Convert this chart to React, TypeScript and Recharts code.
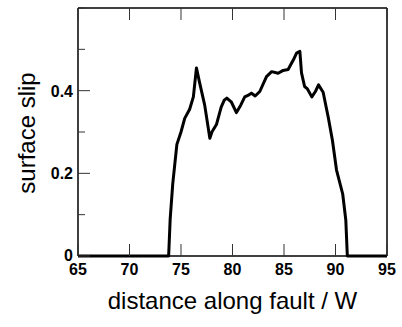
import React from "react";
import { LineChart, Line, XAxis, YAxis, Label } from "recharts";

const distance = [
  65, 73.8, 73.95, 74.2, 74.6, 75.0, 75.36, 75.84, 76.2, 76.5, 76.8, 77.3, 77.8, 78.0,
  78.44, 78.9, 79.2, 79.45, 79.9, 80.38, 80.8, 81.19, 81.6, 81.84, 82.2, 82.65, 83.3,
  83.8, 84.43, 84.92, 85.4, 85.9, 86.22, 86.54, 86.7, 87.0, 87.25, 87.7, 88.05, 88.35,
  88.8, 89.3, 89.7, 90.1, 90.7, 91.0, 91.15, 95,
];
const slip = [
  0, 0, 0.09, 0.175, 0.27, 0.3, 0.333, 0.355, 0.385, 0.455, 0.42, 0.365, 0.285, 0.3,
  0.318, 0.36, 0.377, 0.382, 0.372, 0.347, 0.365, 0.385, 0.39, 0.394, 0.387, 0.398, 0.434,
  0.446, 0.442, 0.449, 0.451, 0.474, 0.491, 0.495, 0.443, 0.41, 0.405, 0.385, 0.398, 0.414,
  0.396, 0.335, 0.28, 0.208, 0.15, 0.087, 0, 0,
];
const xTicks = [65, 70, 75, 80, 85, 90, 95];
const yTicks = [0, 0.1, 0.2, 0.3, 0.4, 0.5, 0.6];
const yLabels: Record<string, string> = { "0": "0", "0.2": "0.2", "0.4": "0.4" };

const data = distance.map((d, i) => ({ d, s: slip[i] }));

const FONT = "'Liberation Sans', Arial, Helvetica, sans-serif";
const MAJOR = 12;
const MINOR = 7;

const isMajorY = (v: number) => yLabels[String(v)] !== undefined;

const BottomTick = (p: any) => (
  <g>
    <line x1={p.x} x2={p.x} y1={p.y} y2={p.y - MAJOR} stroke="#333" strokeWidth={1} />
    <text x={p.x} y={p.y + 19} textAnchor="middle" fontFamily={FONT} fontWeight="bold" fontSize={16} fill="#000">
      {p.payload.value}
    </text>
  </g>
);
const TopTick = (p: any) => (
  <line x1={p.x} x2={p.x} y1={p.y} y2={p.y + MAJOR} stroke="#333" strokeWidth={1} />
);
const LeftTick = (p: any) => {
  const v = p.payload.value;
  const lab = yLabels[String(v)];
  return (
    <g>
      <line x1={p.x} x2={p.x + (isMajorY(v) ? MAJOR : MINOR)} y1={p.y} y2={p.y} stroke="#333" strokeWidth={1} />
      {lab !== undefined && (
        <text x={p.x - 5} y={p.y + (v === 0 ? 5 : 6)} textAnchor="end" fontFamily={FONT} fontWeight="bold" fontSize={16} fill="#000">
          {lab}
        </text>
      )}
    </g>
  );
};
const RightTick = (p: any) => {
  const v = p.payload.value;
  return <line x1={p.x} x2={p.x - (isMajorY(v) ? MAJOR : MINOR)} y1={p.y} y2={p.y} stroke="#333" strokeWidth={1} />;
};

export default function App() {
  return (
    <div style={{ position: "absolute", left: 0, top: 0 }}>
      <LineChart width={402} height={327} data={data} margin={{ top: 0, right: 0, bottom: 0, left: 0 }}>
        <XAxis
          dataKey="d"
          type="number"
          domain={[65, 95]}
          ticks={xTicks}
          interval={0}
          height={71}
          tickSize={0}
          tickMargin={0}
          tick={BottomTick}
          axisLine={{ stroke: "#000", strokeWidth: 1.5 }}
          tickLine={false}
        >
          <Label
            content={(props: any) => {
              const vb = props.viewBox;
              return (
                <text x={vb.x + vb.width / 2} y={vb.y + 53} textAnchor="middle" fontFamily={FONT} fontSize={24} fill="#000">
                  distance along fault / W
                </text>
              );
            }}
          />
        </XAxis>
        <XAxis
          xAxisId="top"
          orientation="top"
          dataKey="d"
          type="number"
          domain={[65, 95]}
          ticks={xTicks}
          interval={0}
          height={8}
          tickSize={0}
          tickMargin={0}
          tick={TopTick}
          axisLine={{ stroke: "#000", strokeWidth: 1.5 }}
          tickLine={false}
        />
        <YAxis
          type="number"
          domain={[0, 0.6]}
          ticks={yTicks}
          interval={0}
          width={78}
          tickSize={0}
          tickMargin={0}
          tick={LeftTick}
          axisLine={{ stroke: "#000", strokeWidth: 1.5 }}
          tickLine={false}
        >
          <Label
            content={(props: any) => {
              const vb = props.viewBox;
              const cx = 35;
              const cy = vb.y + vb.height / 2 + 1;
              return (
                <text x={cx} y={cy} transform={`rotate(-90 ${cx} ${cy})`} textAnchor="middle" fontFamily={FONT} fontSize={24} fill="#000">
                  surface slip
                </text>
              );
            }}
          />
        </YAxis>
        <YAxis
          yAxisId="right"
          orientation="right"
          type="number"
          domain={[0, 0.6]}
          ticks={yTicks}
          interval={0}
          width={15}
          tickSize={0}
          tickMargin={0}
          tick={RightTick}
          axisLine={{ stroke: "#000", strokeWidth: 1.5 }}
          tickLine={false}
        />
        <Line
          dataKey="s"
          type="linear"
          stroke="#000"
          strokeWidth={3}
          dot={false}
          isAnimationActive={false}
          strokeLinejoin="round"
        />
      </LineChart>
    </div>
  );
}
